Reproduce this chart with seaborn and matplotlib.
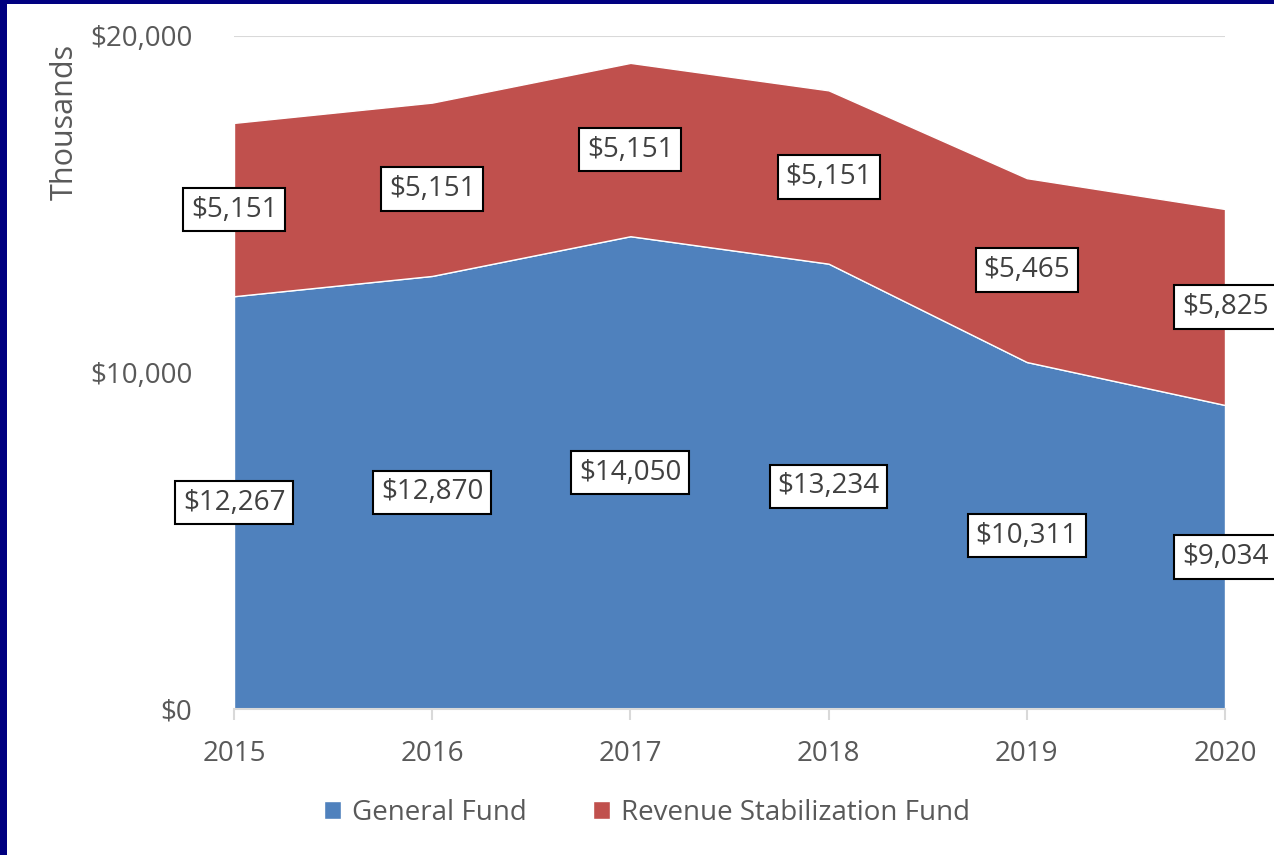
import matplotlib
matplotlib.use("Agg")
import matplotlib.pyplot as plt
from matplotlib.patches import Rectangle
import numpy as np
import pandas as pd
import seaborn as sns

# Data (thousands of dollars)
years = [2015, 2016, 2017, 2018, 2019, 2020]
general_fund = [12267, 12870, 14050, 13234, 10311, 9034]
revenue_stab = [5151, 5151, 5151, 5151, 5465, 5825]
series_names = ["General Fund", "Revenue Stabilization Fund"]
colors = ["#4F81BD", "#C0504D"]

df = pd.DataFrame({"Year": years, series_names[0]: general_fund, series_names[1]: revenue_stab})

sns.set_theme(style="white")
plt.rcParams["font.family"] = ["Open Sans", "DejaVu Sans"]
text_grey = "#595959"

fig = plt.figure(figsize=(12.74, 8.55), dpi=100)
ax = fig.add_axes([234 / 1274, 1 - 709 / 855, (1225 - 234) / 1274, (709 - 36) / 855])

ax.stackplot(df["Year"], df[series_names[0]], df[series_names[1]],
             colors=colors, labels=series_names, zorder=2)

ax.set_xlim(2015, 2020)
ax.set_ylim(0, 20000)
ax.set_yticks([0, 10000, 20000])
ax.set_yticklabels([f"${v:,.0f}" for v in [0, 10000, 20000]])
ax.set_xticks(years)
ax.set_xticklabels([str(y) for y in years])
ax.tick_params(axis="y", length=0, pad=30, labelsize=20, labelcolor=text_grey)
ax.tick_params(axis="x", length=8, width=1.5, color="#d9d9d9", direction="out",
               pad=14, labelsize=20, labelcolor=text_grey, bottom=True)
ax.grid(axis="y", color="#d9d9d9", linewidth=1.5, zorder=1)
for s in ["top", "right", "left"]:
    ax.spines[s].set_visible(False)
ax.spines["bottom"].set_color("#d9d9d9")
ax.spines["bottom"].set_linewidth(1.5)
ax.spines["bottom"].set_zorder(3)

# data labels in the middle of each layer
box = dict(boxstyle="square,pad=0.28", facecolor="white", edgecolor="black", linewidth=1.5)
for x, g, r in zip(years, general_fund, revenue_stab):
    ax.text(x, g / 2, f"${g:,.0f}", ha="center", va="center", fontsize=20,
            color="#404040", bbox=box, clip_on=False, zorder=5)
    ax.text(x, g + r / 2, f"${r:,.0f}", ha="center", va="center", fontsize=20,
            color="#404040", bbox=box, clip_on=False, zorder=5)

fig.text(65 / 1274, 1 - 122 / 855, "Thousands", rotation=90, ha="center", va="center",
         fontsize=22, color=text_grey)

handles, labels = ax.get_legend_handles_labels()
fig.legend(handles, labels, loc="center", bbox_to_anchor=(647 / 1274, 1 - 813 / 855),
           ncol=2, frameon=False, fontsize=20, labelcolor=text_grey,
           handlelength=0.6, handleheight=0.6, handletextpad=0.4, columnspacing=2.4)

# navy frame on left and top edges
fig.patches.append(Rectangle((0, 0), 7 / 1274, 1, transform=fig.transFigure,
                             facecolor="#000080", edgecolor="none", zorder=10))
fig.patches.append(Rectangle((0, 1 - 4 / 855), 1, 4 / 855, transform=fig.transFigure,
                             facecolor="#000080", edgecolor="none", zorder=10))

fig.savefig("out.png", dpi=100, facecolor="white")
